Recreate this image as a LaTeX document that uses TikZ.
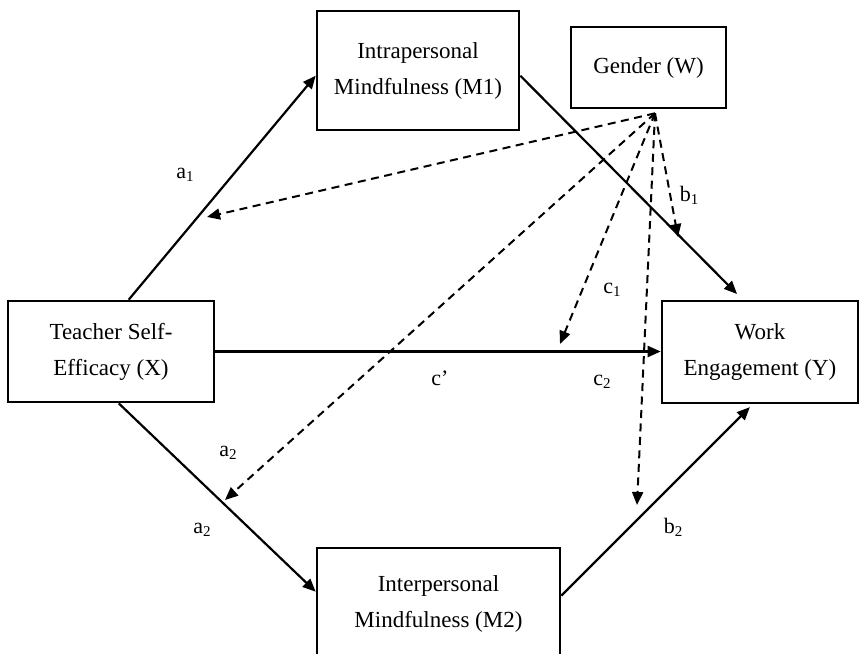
\documentclass[tikz,border=0pt]{standalone}
\usepackage{fontspec}
\setmainfont{Liberation Serif}
\usetikzlibrary{arrows.meta,calc}
\newcommand\sbx[1]{\raisebox{-0.3ex}{\fontsize{15}{15}\selectfont #1}}
\begin{document}
\begin{tikzpicture}[x=1pt,y=-1pt,
  box/.style={draw,line width=2.6pt,inner sep=0pt,align=center,font=\fontsize{23}{36}\selectfont},
  conn/.style={line width=2.2pt,-{Triangle[length=13pt,width=11pt]}},
  mod/.style={line width=2pt,dash pattern=on 8pt off 5.5pt,-{Triangle[length=13pt,width=11pt]}},
  lab/.style={font=\fontsize{22}{22}\selectfont,inner sep=0pt}]
\useasboundingbox (0,0) rectangle (861,653);
\begin{scope}
\clip (0,0) rectangle (861,653);
% boxes
\node[box,minimum width=206pt,minimum height=101pt] (X) at (111,351.5) {Teacher Self-\\Efficacy (X)};
\node[box,minimum width=202pt,minimum height=119pt] (M1) at (418,70.5) {Intrapersonal\\Mindfulness (M1)};
\node[box,minimum width=155pt,minimum height=81pt] (W) at (648.5,67.5) {Gender (W)};
\node[box,minimum width=196pt,minimum height=102pt] (Y) at (760,352) {Work\\Engagement (Y)};
\node[box,minimum width=243pt,minimum height=112pt] (M2) at (438.5,604) {Interpersonal\\Mindfulness (M2)};
% solid paths
\draw[conn] ($(X.north west)+(122,0)$) -- ($(M1.north west)+(0,66)$);
\draw[conn] (X.east) -- (X.east -| Y.west);
\draw[conn] ($(X.south west)+(112,0)$) -- ($(M2.north west)+(0,45)$);
\draw[conn,shorten >=8pt] ($(M1.north east)+(0,66)$) -- ($(Y.north west)+(82,0)$);
\draw[conn,shorten >=4pt] ($(M2.north east)+(0,49)$) -- ($(Y.south west)+(92,0)$);
% moderation paths
\coordinate (W0) at ($(W.south)+(6.5,4)$);
\coordinate (d1) at (207,217);
\coordinate (d2) at (225,500);
\coordinate (d3) at (560,344);
\coordinate (d4) at (637,505);
\coordinate (d5) at (678,237);
\draw[mod] (W0) -- (d1);
\draw[mod] (W0) -- (d2);
\draw[mod] (W0) -- (d3);
\draw[mod] (W0) -- (d4);
\draw[mod] (W0) -- (d5);
% labels
\node[lab] (la1) at (185,175) {a\sbx{1}};
\node[lab] (lb1) at (689,195) {b\sbx{1}};
\node[lab] (lc1) at (612,290) {c\sbx{1}};
\node[lab] (lcp) at (440,378) {c’};
\node[lab] (lc2) at (602,382) {c\sbx{2}};
\node[lab] (la2u) at (228,453) {a\sbx{2}};
\node[lab] (la2l) at (202,530) {a\sbx{2}};
\node[lab] (lb2) at (673,527) {b\sbx{2}};
\end{scope}
\end{tikzpicture}
\end{document}
